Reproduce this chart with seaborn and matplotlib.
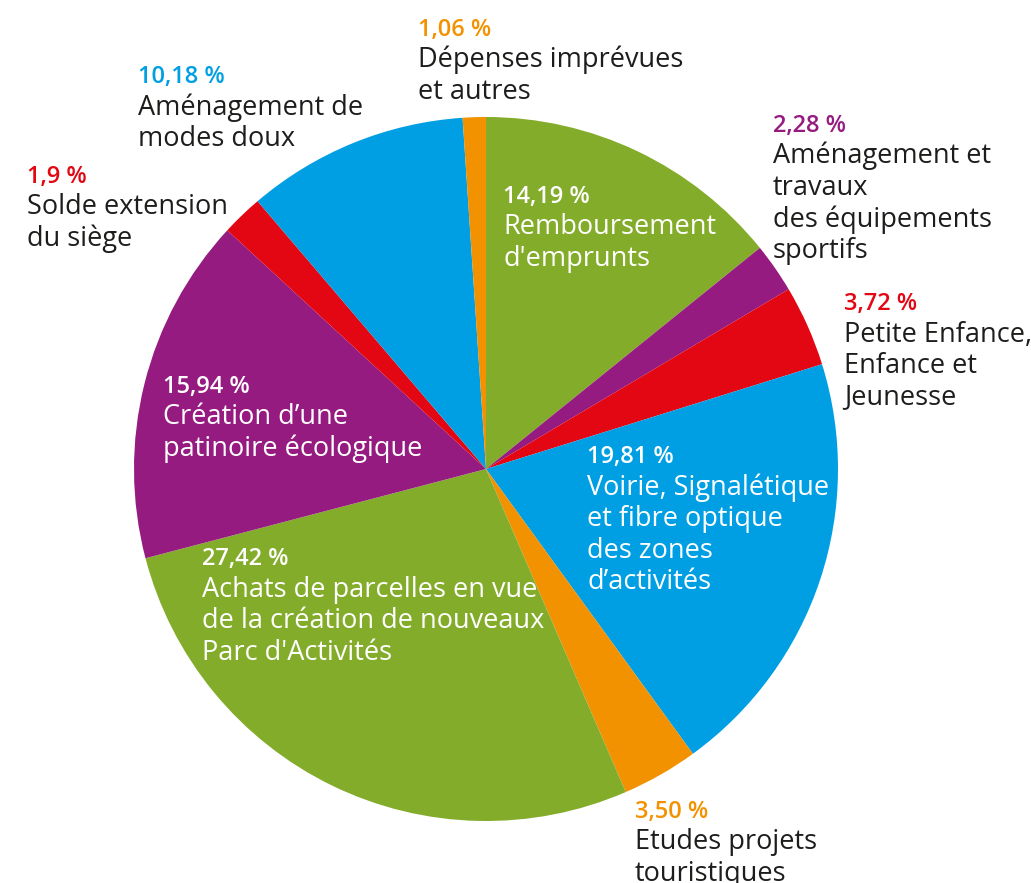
import seaborn as sns
import matplotlib.pyplot as plt

# slices, clockwise from 12 o'clock
categories = ["Remboursement\nd'emprunts",
              "Aménagement et\ntravaux\ndes équipements\nsportifs",
              "Petite Enfance,\nEnfance et\nJeunesse",
              "Voirie, Signalétique\net fibre optique\ndes zones\nd\u2019activités",
              "Etudes projets\ntouristiques",
              "Achats de parcelles en vue\nde la création de nouveaux\nParc d'Activités",
              "Création d\u2019une\npatinoire écologique",
              "Solde extension\ndu siège",
              "Aménagement de\nmodes doux",
              "Dépenses imprévues\net autres"]
values = [14.19, 2.28, 3.72, 19.81, 3.50, 27.42, 15.94, 1.9, 10.18, 1.06]
pct_labels = ["14,19 %", "2,28 %", "3,72 %", "19,81 %", "3,50 %",
              "27,42 %", "15,94 %", "1,9 %", "10,18 %", "1,06 %"]
inside = [True, False, False, True, False, True, True, False, False, False]

GREEN, PURPLE, RED, BLUE, ORANGE = "#84ac2b", "#951b81", "#e30613", "#009fe3", "#f39200"
colors = [GREEN, PURPLE, RED, BLUE, ORANGE, GREEN, PURPLE, RED, BLUE, ORANGE]

# layout (pixels of the 1031x883 image): pie centre/radius, label anchors
W, H = 1031, 883
CX, CY, R = 486, 469, 352
label_pos = [(503, 203), (773, 132), (844, 310), (587, 463), (635, 818),
             (202, 565), (163, 393), (27, 183), (138, 83), (418, 36)]
PITCH = 31.5

sns.set_theme(style="white")
plt.rcParams["font.family"] = ["Open Sans", "DejaVu Sans"]

fig = plt.figure(figsize=(W / 100, H / 100), dpi=100)
fig.patch.set_facecolor("white")
ax = fig.add_axes([0, 0, 1, 1])

ax.pie(values, colors=colors, startangle=90, counterclock=False,
       radius=1, center=(0, 0), wedgeprops=dict(linewidth=0))

ax.set_xlim(-CX / R, (W - CX) / R)
ax.set_ylim(-(H - CY) / R, CY / R)
ax.set_aspect("equal", adjustable="box")
ax.axis("off")


def to_data(x, y):
    return (x - CX) / R, (CY - y) / R


for cat, pct, ins, col, (x, y) in zip(categories, pct_labels, inside, colors, label_pos):
    pct_col = "white" if ins else col
    txt_col = "white" if ins else "#1d1d1b"
    px, py = to_data(x, y)
    ax.text(px, py, pct, color=pct_col, fontsize=17, fontweight="semibold",
            va="baseline", ha="left")
    for i, line in enumerate(cat.split("\n")):
        lx, ly = to_data(x, y + PITCH * (i + 1))
        ax.text(lx, ly, line, color=txt_col, fontsize=19.5, va="baseline", ha="left")

fig.savefig("out.png", dpi=100, facecolor="white")
